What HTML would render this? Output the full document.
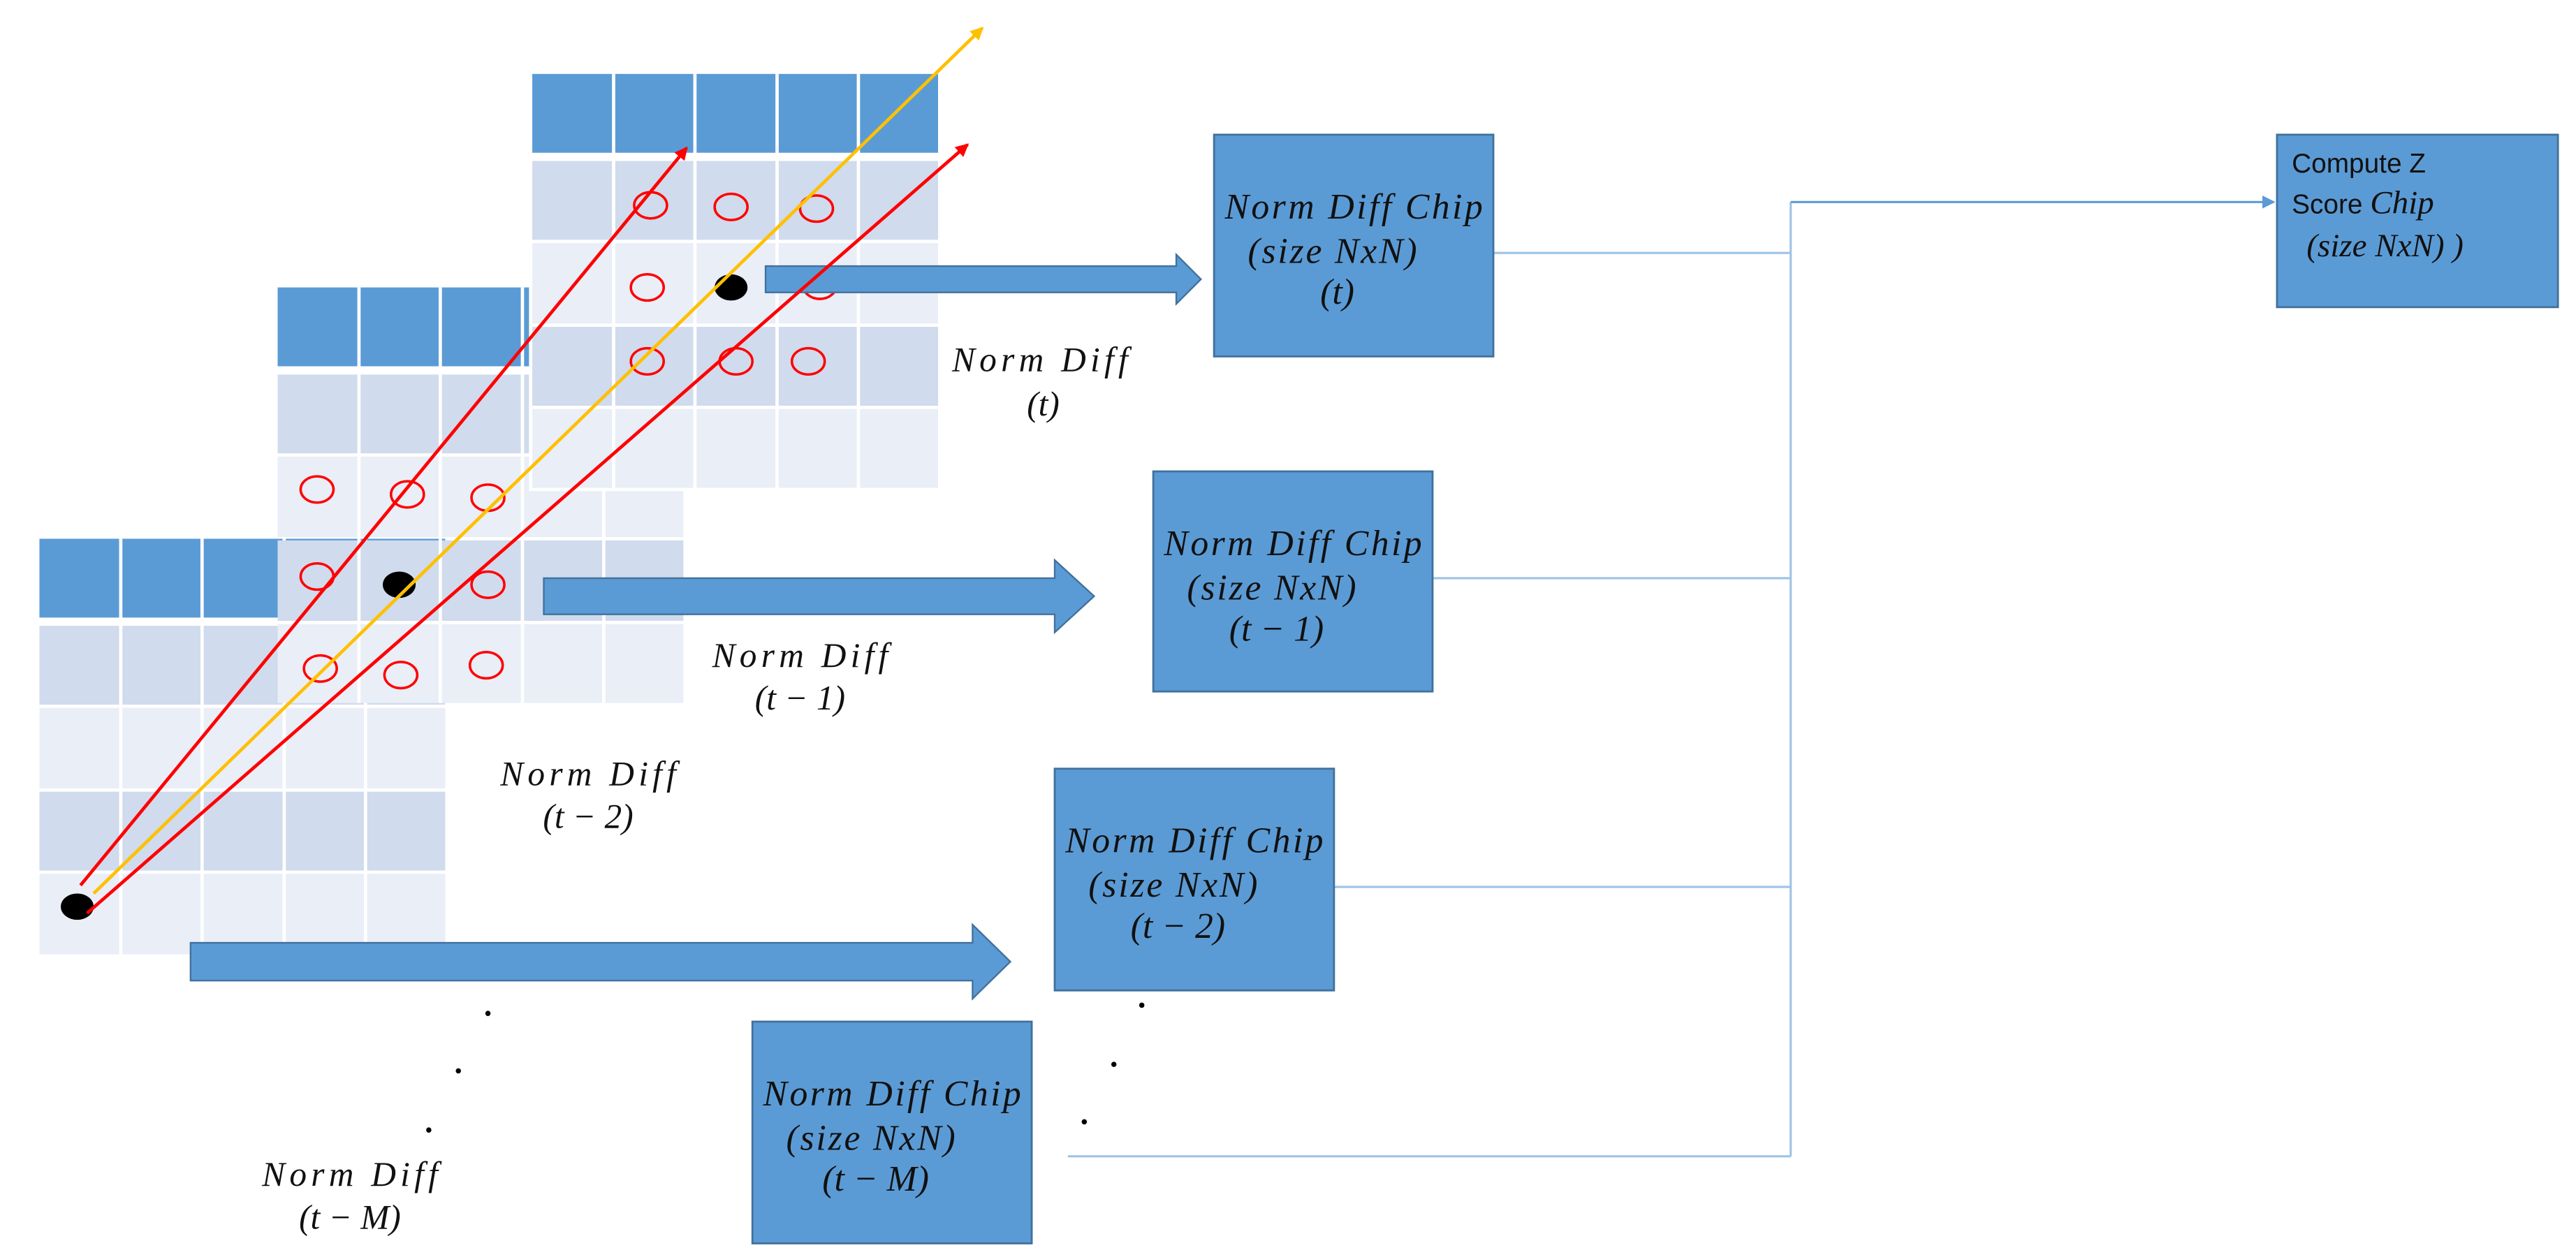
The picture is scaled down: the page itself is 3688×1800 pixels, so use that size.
<!DOCTYPE html>
<html><head><meta charset="utf-8"><style>
html,body{margin:0;padding:0;background:#fff;}
svg{display:block;}
.m{font-family:"Liberation Serif",serif;font-style:italic;font-size:21px;fill:#111;}
.b{font-family:"Liberation Serif",serif;font-style:italic;font-size:22px;fill:#111;}
.s{font-family:"Liberation Sans",sans-serif;font-size:16.5px;fill:#111;}
</style></head><body>
<svg width="3688" height="1800" viewBox="0 0 1568 765.3" preserveAspectRatio="none" xmlns="http://www.w3.org/2000/svg">
<defs>
<marker id="ar" markerWidth="8" markerHeight="8" refX="7" refY="4" orient="auto" markerUnits="userSpaceOnUse"><path d="M0,0 L8,4 L0,8 z" fill="#ff0000"/></marker>
<marker id="ay" markerWidth="8" markerHeight="8" refX="7" refY="4" orient="auto" markerUnits="userSpaceOnUse"><path d="M0,0 L8,4 L0,8 z" fill="#ffc000"/></marker>
<marker id="ab" markerWidth="8" markerHeight="8" refX="7" refY="4" orient="auto" markerUnits="userSpaceOnUse"><path d="M0,0 L8,4 L0,8 z" fill="#5b9bd5"/></marker>
</defs>
<g>
<rect x="24" y="328" width="247" height="48" fill="#5b9bd5"/>
<rect x="24" y="381" width="247" height="48" fill="#d0dbed"/>
<rect x="24" y="431" width="247" height="49" fill="#e9eef7"/>
<rect x="24" y="482" width="247" height="48" fill="#d0dbed"/>
<rect x="24" y="532" width="247" height="49" fill="#e9eef7"/>
<g fill="#fff"><rect x="72.5" y="328" width="2" height="253"/><rect x="122" y="328" width="2" height="253"/><rect x="172" y="328" width="2" height="253"/><rect x="221.5" y="328" width="2" height="253"/></g>
</g>
<g>
<rect x="169" y="175" width="247" height="48" fill="#5b9bd5"/>
<rect x="169" y="228" width="247" height="48" fill="#d0dbed"/>
<rect x="169" y="278" width="247" height="49" fill="#e9eef7"/>
<rect x="169" y="329" width="247" height="49" fill="#d0dbed"/>
<rect x="169" y="380" width="247" height="48" fill="#e9eef7"/>
<g fill="#fff"><rect x="217.5" y="175" width="2" height="253"/><rect x="267" y="175" width="2" height="253"/><rect x="317" y="175" width="2" height="253"/><rect x="366.5" y="175" width="2" height="253"/><rect x="169" y="223" width="247" height="5"/></g>
</g>
<g>
<rect x="322" y="43" width="251" height="256" fill="#fff"/>
<rect x="324" y="45" width="247" height="48" fill="#5b9bd5"/>
<rect x="324" y="98" width="247" height="48" fill="#d0dbed"/>
<rect x="324" y="148" width="247" height="49" fill="#e9eef7"/>
<rect x="324" y="199" width="247" height="48" fill="#d0dbed"/>
<rect x="324" y="249" width="247" height="48" fill="#e9eef7"/>
<g fill="#fff"><rect x="372.5" y="45" width="2" height="252"/><rect x="422" y="45" width="2" height="252"/><rect x="472" y="45" width="2" height="252"/><rect x="521.5" y="45" width="2" height="252"/></g>
</g>
<g fill="none" stroke="#ff0000" stroke-width="1.5">
<ellipse cx="396" cy="125" rx="10" ry="8"/><ellipse cx="445" cy="126" rx="10" ry="8"/><ellipse cx="497" cy="127" rx="10" ry="8"/>
<ellipse cx="394" cy="175" rx="10" ry="8"/><ellipse cx="499" cy="174" rx="10" ry="8"/>
<ellipse cx="394" cy="220" rx="10" ry="8"/><ellipse cx="448" cy="220" rx="10" ry="8"/><ellipse cx="492" cy="220" rx="10" ry="8"/>
<ellipse cx="193" cy="298" rx="10" ry="8"/><ellipse cx="248" cy="301" rx="10" ry="8"/><ellipse cx="297" cy="303" rx="10" ry="8"/>
<ellipse cx="193" cy="351" rx="10" ry="8"/><ellipse cx="297" cy="356" rx="10" ry="8"/>
<ellipse cx="195" cy="407" rx="10" ry="8"/><ellipse cx="244" cy="411" rx="10" ry="8"/><ellipse cx="296" cy="405" rx="10" ry="8"/>
</g>
<g fill="#000"><ellipse cx="445" cy="175" rx="10" ry="8"/><ellipse cx="243" cy="356" rx="10" ry="8"/><ellipse cx="47" cy="552" rx="10" ry="8"/></g>
<g fill="#5b9bd5" stroke="#41719c" stroke-width="1">
<path d="M466,162 H716 V155 L731,170 L716,185 V178 H466 Z"/>
<path d="M331,352 H642 V341 L666,363 L642,385 V374 H331 Z"/>
<path d="M116,574 H592 V563 L615,585.5 L592,608 V597 H116 Z"/>
</g>
<line x1="49" y1="539" x2="418" y2="90" stroke="#ff0000" stroke-width="2" marker-end="url(#ar)"/>
<line x1="57" y1="544" x2="598" y2="17" stroke="#ffc000" stroke-width="2" marker-end="url(#ay)"/>
<line x1="53" y1="556" x2="589" y2="88" stroke="#ff0000" stroke-width="2" marker-end="url(#ar)"/>
<g class="m" text-anchor="middle">
<text x="633" y="226" textLength="107" lengthAdjust="spacing">Norm Diff</text><text x="635" y="253">(t)</text>
<text x="487" y="406" textLength="107" lengthAdjust="spacing">Norm Diff</text><text x="487" y="432">(t − 1)</text>
<text x="358" y="478" textLength="107" lengthAdjust="spacing">Norm Diff</text><text x="358" y="504">(t − 2)</text>
<text x="213" y="722" textLength="107" lengthAdjust="spacing">Norm Diff</text><text x="213" y="748">(t − M)</text>
</g>
<g fill="#000"><circle cx="297" cy="617" r="1.6"/><circle cx="279" cy="652" r="1.6"/><circle cx="261" cy="688" r="1.6"/><circle cx="695" cy="612" r="1.6"/><circle cx="678" cy="648" r="1.6"/><circle cx="660" cy="683" r="1.6"/></g>
<g stroke="#9dc3e6" stroke-width="1.3" fill="none">
<line x1="909" y1="154" x2="1090" y2="154"/>
<line x1="872" y1="352" x2="1090" y2="352"/>
<line x1="812" y1="540" x2="1090" y2="540"/>
<line x1="650" y1="704" x2="1090" y2="704"/>
<line x1="1090" y1="123" x2="1090" y2="704"/>
<line x1="1090" y1="123" x2="1384" y2="123" stroke="#5b9bd5" marker-end="url(#ab)"/>
</g>
<g fill="#5b9bd5" stroke="#41719c" stroke-width="1.2">
<rect x="739" y="82" width="170" height="135"/>
<rect x="702" y="287" width="170" height="134"/>
<rect x="642" y="468" width="170" height="135"/>
<rect x="458" y="622" width="170" height="135"/>
<rect x="1386" y="82" width="171" height="105"/>
</g>
<g class="b" text-anchor="middle">
<text x="824" y="133" textLength="157" lengthAdjust="spacing">Norm Diff Chip</text><text x="811" y="160" textLength="103" lengthAdjust="spacing">(size NxN)</text><text x="814" y="185">(t)</text>
<text x="787" y="338" textLength="157" lengthAdjust="spacing">Norm Diff Chip</text><text x="774" y="365" textLength="103" lengthAdjust="spacing">(size NxN)</text><text x="777" y="390">(t − 1)</text>
<text x="727" y="519" textLength="157" lengthAdjust="spacing">Norm Diff Chip</text><text x="714" y="546" textLength="103" lengthAdjust="spacing">(size NxN)</text><text x="717" y="571">(t − 2)</text>
<text x="543" y="673" textLength="157" lengthAdjust="spacing">Norm Diff Chip</text><text x="530" y="700" textLength="103" lengthAdjust="spacing">(size NxN)</text><text x="533" y="725">(t − M)</text>
</g>
<text class="s" x="1395" y="105">Compute Z</text>
<text class="s" x="1395" y="130">Score <tspan class="b" style="font-size:20px">Chip</tspan></text>
<text class="b" style="font-size:20px" x="1404" y="156">(size NxN) )</text>
</svg>
</body></html>
